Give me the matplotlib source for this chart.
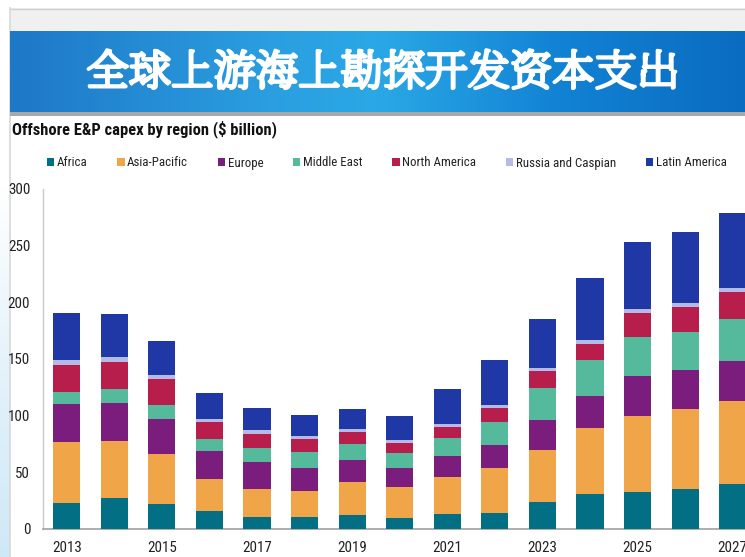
import numpy as np
import matplotlib
matplotlib.use("Agg")
import matplotlib.pyplot as plt
import matplotlib.patheffects as pe
from matplotlib import font_manager as fm
from matplotlib.patches import Rectangle

names = {f.name for f in fm.fontManager.ttflist}
NARROW = "Roboto Condensed" if "Roboto Condensed" in names else "Liberation Sans"
SERIF_CJK = [f for f in ["Noto Serif SC", "Noto Serif CJK JP", "Noto Sans CJK JP"] if f in names] + ["DejaVu Sans"]

years = list(range(2013, 2028))
tick_years = years[::2]
series_names = ["Africa", "Asia-Pacific", "Europe", "Middle East",
                "North America", "Russia and Caspian", "Latin America"]
africa = [22.6, 27.6, 21.8, 15.6, 10.9, 10.3, 12.6, 9.4, 13.5, 14.4, 23.5, 30.6, 32.6, 35.6, 40.0]
asia_pacific = [54.5, 50.0, 44.1, 28.8, 24.7, 23.2, 28.6, 27.7, 32.1, 39.1, 46.2, 58.2, 67.4, 70.6, 72.6]
europe = [33.2, 33.9, 31.5, 24.1, 23.5, 20.0, 19.7, 17.0, 18.8, 20.6, 26.8, 28.8, 34.7, 33.8, 35.3]
middle_east = [10.3, 12.3, 12.0, 10.6, 12.1, 14.4, 14.4, 13.0, 15.9, 20.3, 28.2, 31.2, 35.0, 34.1, 37.1]
north_america = [24.1, 23.3, 23.0, 15.0, 12.9, 11.5, 10.6, 9.1, 9.7, 12.1, 14.7, 14.4, 20.9, 21.8, 24.1]
russia_caspian = [4.4, 4.7, 3.5, 3.3, 3.3, 2.7, 2.3, 2.0, 2.4, 2.6, 2.7, 3.3, 3.2, 3.8, 3.8]
latin_america = [41.2, 37.6, 30.3, 22.3, 19.7, 18.5, 17.4, 21.8, 31.1, 39.7, 43.2, 54.7, 59.7, 62.1, 65.6]
series = [africa, asia_pacific, europe, middle_east, north_america, russia_caspian, latin_america]
colors = ["#036f85", "#f0a548", "#7a1d7c", "#55b99b", "#b81e4c", "#b3bbe6", "#1f38a6"]

title = "全球上游海上勘探开发资本支出"
subtitle = "Offshore E&P capex by region ($ billion)"

W, H = 745, 557
fig = plt.figure(figsize=(W / 100, H / 100), dpi=100)
fig.patch.set_facecolor("white")

def fx(px):
    return px / W

def fy(py):
    return 1 - py / H

# background decoration axes
bg = fig.add_axes([0, 0, 1, 1], zorder=-10)
bg.set_xlim(0, W)
bg.set_ylim(H, 0)
bg.axis("off")
grad = np.linspace(0, 1, 256).reshape(-1, 1)
left_cmap = matplotlib.colors.LinearSegmentedColormap.from_list("lb", ["#ffffff", "#ffffff", "#e4f2fb", "#cfe8f8"])
bg.imshow(grad, extent=(0, 10, H, 0), cmap=left_cmap, aspect="auto", zorder=0)
bg.add_patch(Rectangle((10, 8), W - 10, H - 8, facecolor="white", edgecolor="none", zorder=1))
bg.add_patch(Rectangle((10, 8), W - 10, 23, facecolor="#f0f0f0", edgecolor="none", zorder=2))
bg.plot([10, W], [8.5, 8.5], color="#d0d0d0", lw=1, zorder=3)
bg.plot([10, 10], [8, H], color="#d8d8d8", lw=1.2, zorder=3)
xs = np.linspace(0, 1, 512)
banner_cmap = matplotlib.colors.LinearSegmentedColormap.from_list(
    "bn", [(0, "#1e78c8"), (0.35, "#2a9ee0"), (0.5, "#2aa8e6"), (0.75, "#1282d4"), (1, "#0a6cc0")])
bg.imshow(xs.reshape(1, -1), extent=(10, W, 112, 31), cmap=banner_cmap, aspect="auto", zorder=4)
bg.add_patch(Rectangle((10, 112), W - 10, 4, facecolor="#a8a8a8", edgecolor="none", zorder=4))

fig.text(fx(383), fy(74), title, color="white", fontsize=30.5, fontweight="bold",
         family=SERIF_CJK, ha="center", va="center",
         path_effects=[pe.withStroke(linewidth=2.2, foreground="white")])
fig.text(fx(12), fy(129), subtitle, color="#111111", fontsize=11.9, fontweight="bold",
         family=NARROW, ha="left", va="center")

left, right = 42.7, W
bottom_px, top_px = 529, 189
ax = fig.add_axes([fx(left), fy(bottom_px), fx(right) - fx(left), (bottom_px - top_px) / H])
ax.set_facecolor("none")
base = np.zeros(len(years))
handles = []
for name, vals, c in zip(series_names, series, colors):
    b = ax.bar(years, vals, bottom=base, width=0.57, color=c, label=name, zorder=3)
    handles.append(b)
    base = base + np.array(vals)

px_per_year = 47.57
ax.set_xlim(2013 - (66.7 - left) / px_per_year, 2013 + (right - 66.7) / px_per_year)
ax.set_ylim(0, 300)
ax.set_yticks([0, 50, 100, 150, 200, 250, 300])
ax.set_xticks(tick_years)
ax.set_xticklabels([str(y) for y in tick_years])
for lab in ax.get_xticklabels() + ax.get_yticklabels():
    lab.set_family(NARROW)
    lab.set_fontsize(10.8)
    lab.set_color("#222222")
ax.tick_params(axis="both", length=0)
ax.tick_params(axis="y", pad=9)
ax.tick_params(axis="x", pad=9)
for s in ["top", "right"]:
    ax.spines[s].set_visible(False)
ax.spines["left"].set_color("#c8c8c8")
ax.spines["bottom"].set_color("#a0a0a0")
ax.spines["left"].set_linewidth(1)
ax.spines["bottom"].set_linewidth(1.2)

leg = fig.legend(handles=handles, labels=series_names, loc="center left",
                 bbox_to_anchor=(fx(47), fy(163)), ncol=7, frameon=False,
                 handlelength=0.55, handleheight=0.55, handletextpad=0.2,
                 columnspacing=2.32, borderaxespad=0, borderpad=0,
                 prop={"family": NARROW, "size": 9.3})
for t in leg.get_texts():
    t.set_color("#222222")

fig.savefig("out.png", dpi=100)
